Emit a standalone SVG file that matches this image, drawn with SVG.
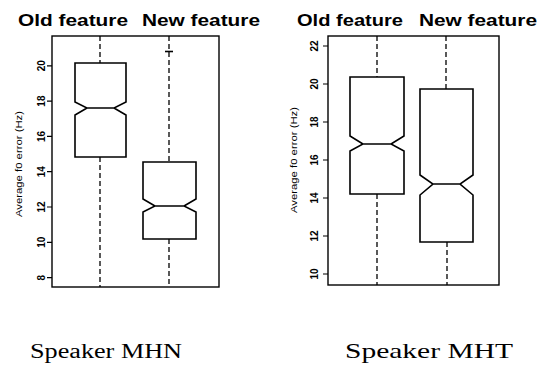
<svg xmlns="http://www.w3.org/2000/svg" width="543" height="370" viewBox="0 0 543 370">
<style>
.bg{fill:#fff}
.frame{fill:none;stroke:#000;stroke-width:1.4}
.box{fill:none;stroke:#000;stroke-width:1.6;stroke-linejoin:miter}
.wh{fill:none;stroke:#000;stroke-width:1.3;stroke-dasharray:5,3}
.tick{stroke:#000;stroke-width:1.2}
.title{font-family:"Liberation Sans",Arial,sans-serif;font-weight:bold;font-size:16px;fill:#000}
.num{font-family:"Liberation Sans",Arial,sans-serif;font-weight:bold;font-size:10px;fill:#000}
.ax{font-family:"Liberation Sans",Arial,sans-serif;font-size:9px;fill:#000}
.cap{font-family:"Liberation Serif","Times New Roman",serif;font-size:20px;fill:#000}
</style>
<rect class="bg" x="0" y="0" width="543" height="370"/>

<g id="plot-mhn">
  <text class="title" x="18" y="26" textLength="110" lengthAdjust="spacingAndGlyphs">Old feature</text>
  <text class="title" x="142" y="26" textLength="118" lengthAdjust="spacingAndGlyphs">New feature</text>
  <rect class="frame" x="52" y="36" width="167" height="251"/>
  <g id="axis-mhn">
    <path class="tick" d="M47,277.6H52M47,242.3H52M47,207H52M47,171.7H52M47,136.4H52M47,101.1H52M47,65.8H52"/>
    <text class="num" text-anchor="middle" transform="translate(44.5,277.6) rotate(-90)">8</text>
    <text class="num" text-anchor="middle" transform="translate(44.5,242.3) rotate(-90)">10</text>
    <text class="num" text-anchor="middle" transform="translate(44.5,207) rotate(-90)">12</text>
    <text class="num" text-anchor="middle" transform="translate(44.5,171.7) rotate(-90)">14</text>
    <text class="num" text-anchor="middle" transform="translate(44.5,136.4) rotate(-90)">16</text>
    <text class="num" text-anchor="middle" transform="translate(44.5,101.1) rotate(-90)">18</text>
    <text class="num" text-anchor="middle" transform="translate(44.5,65.8) rotate(-90)">20</text>
    <text class="ax" text-anchor="middle" transform="translate(22,164) rotate(-90)" textLength="106" lengthAdjust="spacingAndGlyphs">Average f0 error (Hz)</text>
  </g>
  <g id="mhn-old">
    <path class="wh" d="M100,36V63M100,157V287"/>
    <path class="box" d="M75,63H126V102L114,108L126,115V157H75V115L87,108L75,102Z M87,108H114"/>
  </g>
  <g id="mhn-new">
    <path class="wh" d="M169,36V162M169,239V287"/>
    <path class="box" d="M165,51.5H173"/>
    <path class="box" d="M143,162H196V199L184,206L196,212V239H143V212L155,206L143,199Z M155,206H184"/>
  </g>
  <text class="cap" x="30" y="358" textLength="152" lengthAdjust="spacingAndGlyphs">Speaker MHN</text>
</g>

<g id="plot-mht">
  <text class="title" x="297" y="26" textLength="106" lengthAdjust="spacingAndGlyphs">Old feature</text>
  <text class="title" x="419" y="26" textLength="118" lengthAdjust="spacingAndGlyphs">New feature</text>
  <rect class="frame" x="328" y="36" width="171" height="249"/>
  <g id="axis-mht">
    <path class="tick" d="M323,274H328M323,236H328M323,198H328M323,160H328M323,122H328M323,84H328M323,46H328"/>
    <text class="num" text-anchor="middle" transform="translate(317.5,274) rotate(-90)">10</text>
    <text class="num" text-anchor="middle" transform="translate(317.5,236) rotate(-90)">12</text>
    <text class="num" text-anchor="middle" transform="translate(317.5,198) rotate(-90)">14</text>
    <text class="num" text-anchor="middle" transform="translate(317.5,160) rotate(-90)">16</text>
    <text class="num" text-anchor="middle" transform="translate(317.5,122) rotate(-90)">18</text>
    <text class="num" text-anchor="middle" transform="translate(317.5,84) rotate(-90)">20</text>
    <text class="num" text-anchor="middle" transform="translate(317.5,46) rotate(-90)">22</text>
    <text class="ax" text-anchor="middle" transform="translate(296.5,160) rotate(-90)" textLength="106" lengthAdjust="spacingAndGlyphs">Average f0 error (Hz)</text>
  </g>
  <g id="mht-old">
    <path class="wh" d="M377,36V77M377,194V285"/>
    <path class="box" d="M350,77H404V136L391,144L404,151V194H350V151L363,144L350,136Z M363,144H391"/>
  </g>
  <g id="mht-new">
    <path class="wh" d="M446,36V89M447,242V285"/>
    <path class="box" d="M420,89H473V175L460,184L473,195V242H420V195L433,184L420,175Z M433,184H460"/>
  </g>
  <text class="cap" x="345" y="358" textLength="168" lengthAdjust="spacingAndGlyphs" style="font-size:21px">Speaker MHT</text>
</g>
</svg>
